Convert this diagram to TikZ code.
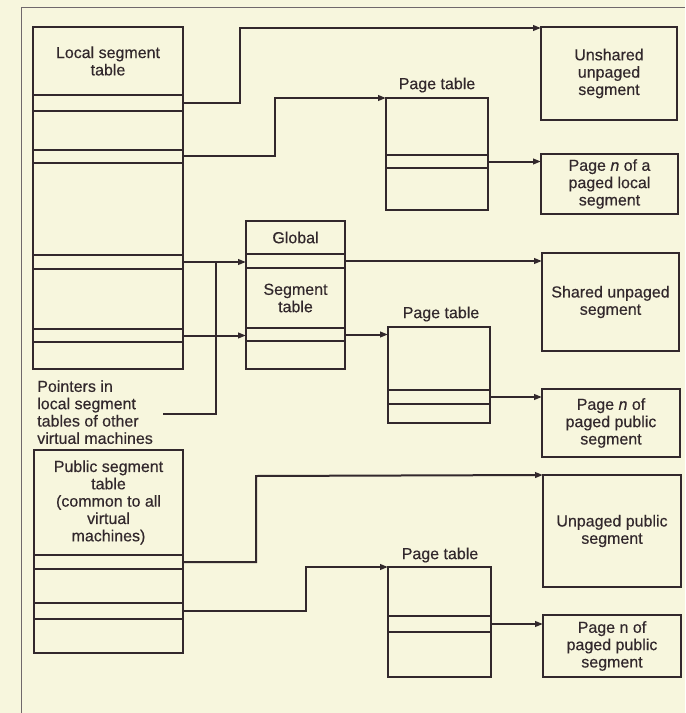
\documentclass[tikz,border=0pt]{standalone}
\usepackage{fontspec}
\setmainfont{Liberation Sans}[FakeBold=0.35]
\usetikzlibrary{fit,arrows.meta}
\definecolor{bg}{RGB}{247,246,221}
\definecolor{ink}{RGB}{50,40,44}
\newcommand{\cell}[6]{\node[cell, fit={(#2,#3)(#4,#5)}] (#1) {};
  \node[txt, align=center, inner sep=0pt] (#1t) at (#1.center) {#6};}
\begin{document}
\begin{tikzpicture}[x=0.75pt,y=-0.75pt,
  txt/.style={text=ink, font=\fontsize{12}{13}\selectfont},
  cell/.style={draw=ink, line width=0.8pt, inner sep=0pt, outer sep=0pt},
  conn/.style={draw=ink, line width=1.5pt},
  arr/.style={conn, -{Triangle[length=6pt,width=4.2pt]}},
  frame/.style={draw=ink!70, line width=0.7pt}]
\fill[bg] (0,0) rectangle (685,713);
\useasboundingbox (0,0) rectangle (685,713);
% outer frame (open at right and bottom)
\draw[frame] (21,713) -- (21,7) -- (685,7);
% local segment table
\cell{ls0}{33}{27}{183}{95}{Local segment\\table}
\cell{ls1}{33}{95}{183}{111}{}
\cell{ls2}{33}{111}{183}{150}{}
\cell{ls3}{33}{150}{183}{163}{}
\cell{ls4}{33}{163}{183}{255}{}
\cell{ls5}{33}{255}{183}{269}{}
\cell{ls6}{33}{269}{183}{329}{}
\cell{ls7}{33}{329}{183}{342}{}
\cell{ls8}{33}{342}{183}{369}{}
% global segment table
\cell{g0}{246}{221}{345}{254}{Global}
\cell{g1}{246}{254}{345}{268}{}
\cell{g2}{246}{268}{345}{328}{Segment\\table}
\cell{g3}{246}{328}{345}{341}{}
\cell{g4}{246}{341}{345}{369}{}
% public segment table
\cell{pb0}{34}{450}{183}{555}{Public segment\\table\\(common to all\\virtual\\machines)}
\cell{pb1}{34}{555}{183}{569}{}
\cell{pb2}{34}{569}{183}{603}{}
\cell{pb3}{34}{603}{183}{619}{}
\cell{pb4}{34}{619}{183}{653}{}
% page tables
\cell{pa0}{386}{98}{488}{155}{}
\cell{pa1}{386}{155}{488}{168}{}
\cell{pa2}{386}{168}{488}{210}{}
\node[txt] (pal) at (437,85) {Page table};
\cell{pc0}{388}{327}{490}{390}{}
\cell{pc1}{388}{390}{490}{404}{}
\cell{pc2}{388}{404}{490}{423}{}
\node[txt] (pcl) at (441,314) {Page table};
\cell{pe0}{388}{567}{491}{616}{}
\cell{pe1}{388}{616}{491}{632}{}
\cell{pe2}{388}{632}{491}{677}{}
\node[txt] (pel) at (440,555) {Page table};
% segment boxes
\cell{unsh}{541}{27}{677}{120}{Unshared\\unpaged\\segment}
\cell{pgl}{541}{154}{678}{214}{Page \emph{n} of a\\paged local\\segment}
\cell{shr}{542}{253}{679}{351}{Shared unpaged\\segment}
\cell{pgp}{542}{389}{680}{457}{Page \emph{n} of\\paged public\\segment}
\cell{upub}{543}{475}{681}{587}{Unpaged public\\segment}
\cell{pgq}{543}{615}{681}{677}{Page n of\\paged public\\segment}
% pointers text
\node[txt, align=left, anchor=north west, inner sep=0pt] (ptr) at (37,380)
  {Pointers in\\local segment\\tables of other\\virtual machines};
\coordinate (ptre) at (163,414);
\coordinate (jn) at (216,262);
% connectors
\draw[arr] (ls1.east) -| (240,28) -- (unsh.west |- 240,28);
\draw[arr] (ls3.east) -| (275,98) -- (pa0.north west);
\draw[arr] (ls5.east) -- (g1.west |- ls5.east);
\draw[arr] (ls7.east) -- (g3.west |- ls7.east);
\draw[conn] (ptre) -| (jn);
\draw[arr] (g1.east) -- (shr.west |- g1.east);
\draw[arr] (g3.east) -- (pc0.west |- g3.east);
\draw[arr] (pa1.east) -- (pgl.west |- pa1.east);
\draw[arr] (pc1.east) -- (pgp.west |- pc1.east);
\draw[arr] (pb1.east) -| (256,476) -- (upub.north west);
\draw[arr] (pb3.east) -| (306,567) -- (pe0.north west);
\draw[arr] (pe1.east) -- (pgq.west |- pe1.east);
\end{tikzpicture}
\end{document}
